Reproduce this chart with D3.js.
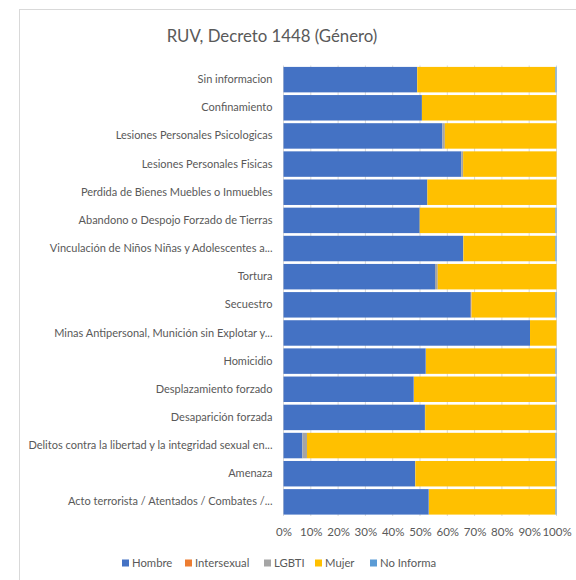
<!DOCTYPE html>
<html>
<head>
<meta charset="utf-8">
<script src="https://cdn.jsdelivr.net/npm/d3@7"></script>
<style>
  body { margin: 0; background: #fff; }
  svg { display: block; font-family: Lato, "Open Sans", sans-serif; }
</style>
</head>
<body>
<svg width="576" height="580"></svg>
<script>
/*
 * data (percent of each category)
 */
var categories = [
  "Sin informacion",
  "Confinamiento",
  "Lesiones Personales Psicologicas",
  "Lesiones Personales Fisicas",
  "Perdida de Bienes Muebles o Inmuebles",
  "Abandono o Despojo Forzado de Tierras",
  "Vinculación de Niños Niñas y Adolescentes a...",
  "Tortura",
  "Secuestro",
  "Minas Antipersonal, Munición sin Explotar y...",
  "Homicidio",
  "Desplazamiento forzado",
  "Desaparición forzada",
  "Delitos contra la libertad y la integridad sexual en...",
  "Amenaza",
  "Acto terrorista / Atentados / Combates /..."
];
var hombre      = [48.9, 50.7, 58.2, 65.1, 52.7, 49.9, 65.8, 55.5, 68.6, 90.3, 52.1, 47.7, 51.8,  6.9, 48.2, 53.2];
var intersexual = [0,    0,    0,    0,    0,    0,    0,    0,    0.2,  0,    0,    0,    0,    0,    0,    0];
var lgbti       = [0.1,  0,    0.9,  0.7,  0,    0,    0.1,  1.0,  0.1,  0,    0.1,  0.1,  0.1,  1.7,  0.1,  0.1];
var mujer       = [50.6, 49.3, 40.9, 34.2, 47.3, 49.7, 33.7, 43.5, 30.7, 9.7,  47.4, 51.8, 47.7, 91.0, 51.3, 46.3];
var noInforma   = [0.4,  0,    0,    0,    0,    0.4,  0.4,  0,    0.4,  0,    0.4,  0.4,  0.4,  0.4,  0.4,  0.4];

var seriesNames  = ["Hombre", "Intersexual", "LGBTI", "Mujer", "No Informa"];
var seriesValues = [hombre, intersexual, lgbti, mujer, noInforma];
var seriesColors = ["#4472C4", "#ED7D31", "#A5A5A5", "#FFC000", "#5B9BD5"];
var tickValues   = [0, 0.1, 0.2, 0.3, 0.4, 0.5, 0.6, 0.7, 0.8, 0.9, 1];

/*
 * svg set up
 */
var svg = d3.select("svg"),
    width = +svg.attr("width"),
    height = +svg.attr("height");

var textColor = "#595959";

// chart frame
svg.append("rect")
    .attr("x", 19.5).attr("y", 9.5)
    .attr("width", 600).attr("height", 600)
    .attr("fill", "#fff")
    .attr("stroke", "#d9d9d9");

svg.append("text")
    .attr("x", 272).attr("y", 42)
    .attr("text-anchor", "middle")
    .attr("fill", textColor)
    .style("font-size", "16.8px")
    .text("RUV, Decreto 1448 (Género)");

// build rows for the stack
var rows = categories.map(function(c, i) {
  var r = { cat: c };
  seriesNames.forEach(function(s, j) { r[s] = seriesValues[j][i]; });
  return r;
});

var stacked = d3.stack()
    .keys(seriesNames)
    .offset(d3.stackOffsetExpand)(rows);

var x = d3.scaleLinear().domain([0, 1]).range([283.5, 556.5]);
var y = d3.scaleBand().domain(categories).range([65.5, 516]).paddingInner(0.095).paddingOuter(0.05);

// gridlines
svg.append("g")
    .selectAll("line")
    .data(tickValues)
    .enter().append("line")
      .attr("x1", function(d) { return x(d); })
      .attr("x2", function(d) { return x(d); })
      .attr("y1", y.range()[0])
      .attr("y2", y.range()[1])
      .attr("stroke", "#d9d9d9")
      .attr("stroke-width", 1);

// bars
svg.append("g")
    .selectAll("g")
    .data(stacked)
    .enter().append("g")
      .attr("fill", function(d, i) { return seriesColors[i]; })
    .selectAll("rect")
    .data(function(d) { return d; })
    .enter().append("rect")
      .attr("x", function(d) { return x(d[0]); })
      .attr("width", function(d) { return x(d[1]) - x(d[0]); })
      .attr("y", function(d) { return y(d.data.cat); })
      .attr("height", y.bandwidth());

// category axis
var yAxis = svg.append("g")
    .attr("transform", "translate(283.5,0)")
    .call(d3.axisLeft(y).tickSize(0).tickPadding(11));
yAxis.select(".domain").remove();
yAxis.selectAll("text")
    .attr("fill", textColor)
    .style("font-size", "11px")
    .style("font-family", "Lato, 'Open Sans', sans-serif");

// value axis
var xAxis = svg.append("g")
    .attr("transform", "translate(0," + 516 + ")")
    .call(d3.axisBottom(x).tickValues(tickValues).tickFormat(d3.format(".0%")).tickSize(0).tickPadding(12));
xAxis.select(".domain").remove();
xAxis.selectAll("text")
    .attr("fill", textColor)
    .style("font-size", "11.5px")
    .style("font-family", "Lato, 'Open Sans', sans-serif");

/*
 * legend
 */
var legendX = [122, 185, 264, 315, 370];
var legend = svg.append("g")
    .selectAll("g")
    .data(seriesNames)
    .enter().append("g")
      .attr("transform", function(d, i) { return "translate(" + legendX[i] + ",563)"; });

legend.append("rect")
    .attr("x", 0).attr("y", -3.5)
    .attr("width", 7).attr("height", 7)
    .attr("fill", function(d, i) { return seriesColors[i]; });

legend.append("text")
    .attr("x", 10).attr("y", 4)
    .attr("fill", textColor)
    .style("font-size", "11.3px")
    .text(function(d) { return d; });
</script>
</body>
</html>
